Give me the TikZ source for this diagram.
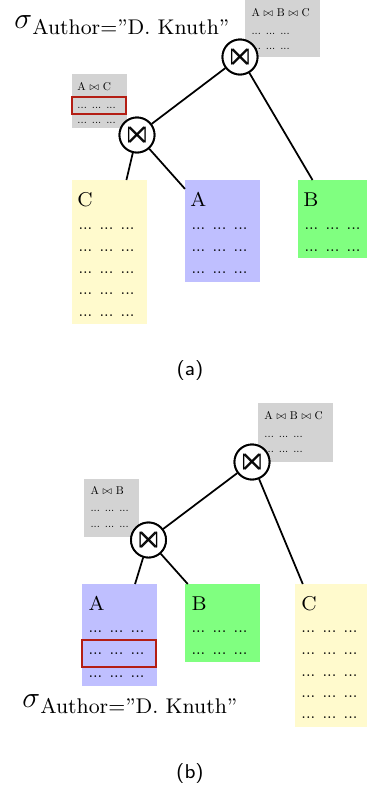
\documentclass[tikz,border=0pt]{standalone}
\usepackage{amssymb}
\usepackage{graphicx}
\definecolor{relC}{RGB}{255,250,205}
\definecolor{relA}{RGB}{191,191,255}
\definecolor{relB}{RGB}{128,255,128}
\definecolor{interm}{RGB}{211,211,211}
\definecolor{hilite}{RGB}{180,30,20}
% a row of elided tuple values, in a base relation or in an intermediate result
\newcommand{\dotrow}{\scalebox{0.66}{\fontsize{10}{12}\selectfont ... ... ...}}
\newcommand{\tmprow}{\scalebox{0.45}{\fontsize{10}{12}\selectfont ... ... ...}}
\newcommand{\tmptitle}[1]{\scalebox{0.45}{\fontsize{10}{12}\selectfont #1}}
\newcommand{\selection}{{\fontsize{12.5}{13}\selectfont$\sigma$}\raisebox{-2.6pt}{\fontsize{8.5}{9}\selectfont Author=”D. Knuth”}}
\begin{document}
\begin{tikzpicture}[x=0.4pt,y=-0.4pt,
  rel/.style={inner sep=0,outer sep=0,anchor=north west,minimum width=30pt},
  tmp/.style={fill=interm,inner sep=0,outer sep=0,anchor=north west},
  joinop/.style={circle,draw,fill=white,line width=0.75pt,minimum size=14pt,inner sep=0},
  opsym/.style={inner sep=0,font=\fontsize{13.5}{14}\selectfont},
  edge/.style={line width=0.7pt},
  relname/.style={anchor=base west,inner sep=0,font=\fontsize{8}{9}\selectfont},
  tuple/.style={anchor=base west,inner sep=0},
  hl/.style={draw=hilite,line width=1pt,inner sep=0,outer sep=0,anchor=north west},
  caption/.style={inner sep=0,font=\sffamily\fontsize{8}{9}\selectfont}]
\useasboundingbox (0,0) rectangle (367,789);

% ---------------- (a): (C join A) join B ----------------
\node[anchor=base west,inner sep=0] (sela) at (14,28) {\selection};

\node[tmp,minimum width=30pt,minimum height=22.8pt] (ta1) at (245,0) {};
\node[tuple] (ta1n) at (251,16) {\tmptitle{A $\bowtie$ B $\bowtie$ C}};
\node[tuple] (ta1r1) at (251,34) {\tmprow};
\node[tuple] (ta1r2) at (251,49) {\tmprow};

\node[tmp,minimum width=22pt,minimum height=21.6pt] (ta2) at (72,74) {};
\node[tuple] (ta2n) at (77,90) {\tmptitle{A $\bowtie$ C}};
\node[hl,minimum width=21.6pt,minimum height=6.8pt] (hla) at (72,97) {};
\node[tuple] (ta2r1) at (77,108) {\tmprow};
\node[tuple] (ta2r2) at (77,123) {\tmprow};

\node[rel,fill=relC,minimum height=57.6pt] (Ca) at (72,180) {};
\node[relname] at (77,206) {C};
\foreach \y in {229,251,273,294,316} \node[tuple] at (78,\y) {\dotrow};

\node[rel,fill=relA,minimum height=40.8pt] (Aa) at (185,180) {};
\node[relname] at (190,206) {A};
\foreach \y in {229,251,273} \node[tuple] at (191,\y) {\dotrow};

\node[rel,fill=relB,minimum height=31.2pt] (Ba) at (298,180) {};
\node[relname] at (303,206) {B};
\foreach \y in {229,251} \node[tuple] at (304,\y) {\dotrow};

\node[joinop] (ja1) at (240,57) {};
\node[joinop] (ja2) at (137,135) {};
\draw[edge] (ja1) -- (ja2);
\draw[edge] (ja1) -- (Ba);
\draw[edge] (ja2) -- (Ca);
\draw[edge] (ja2) -- (Aa);
\node[joinop] at (ja1) {};
\node[joinop] at (ja2) {};
\node[opsym] at (ja1) {$\Join$};
\node[opsym] at (ja2) {$\Join$};

\node[caption] (capa) at (190,370) {(a)};

% ---------------- (b): (A join B) join C ----------------
\node[tmp,minimum width=30pt,minimum height=23.6pt] (tb1) at (258,403) {};
\node[tuple] (tb1n) at (264,419) {\tmptitle{A $\bowtie$ B $\bowtie$ C}};
\node[tuple] (tb1r1) at (264,437) {\tmprow};
\node[tuple] (tb1r2) at (264,452) {\tmprow};

\node[tmp,minimum width=22pt,minimum height=23.2pt] (tb2) at (84,479) {};
\node[tuple] (tb2n) at (90,494) {\tmptitle{A $\bowtie$ B}};
\node[tuple] (tb2r1) at (90,511) {\tmprow};
\node[tuple] (tb2r2) at (90,527) {\tmprow};

\node[rel,fill=relA,minimum height=40.8pt] (Ab) at (82,584) {};
\node[relname] at (88,610) {A};
\foreach \y in {632,654,677} \node[tuple] at (88,\y) {\dotrow};
\node[hl,minimum width=29.6pt,minimum height=10.8pt] (hlb) at (82,640) {};

\node[rel,fill=relB,minimum height=31.2pt] (Bb) at (185,584) {};
\node[relname] at (191,610) {B};
\foreach \y in {632,654} \node[tuple] at (191,\y) {\dotrow};

\node[rel,fill=relC,minimum height=57.2pt] (Cb) at (295,584) {};
\node[relname] at (301,610) {C};
\foreach \y in {632,654,676,697,718} \node[tuple] at (301,\y) {\dotrow};

\node[anchor=base west,inner sep=0] (selb) at (22,707) {\selection};

\node[joinop] (jb1) at (252,462) {};
\node[joinop] (jb2) at (148.5,540) {};
\draw[edge] (jb1) -- (jb2);
\draw[edge] (jb1) -- (Cb);
\draw[edge] (jb2) -- (Ab);
\draw[edge] (jb2) -- (Bb);
\node[joinop] at (jb1) {};
\node[joinop] at (jb2) {};
\node[opsym] at (jb1) {$\Join$};
\node[opsym] at (jb2) {$\Join$};

\node[caption] (capb) at (190,773) {(b)};
\end{tikzpicture}
\end{document}
